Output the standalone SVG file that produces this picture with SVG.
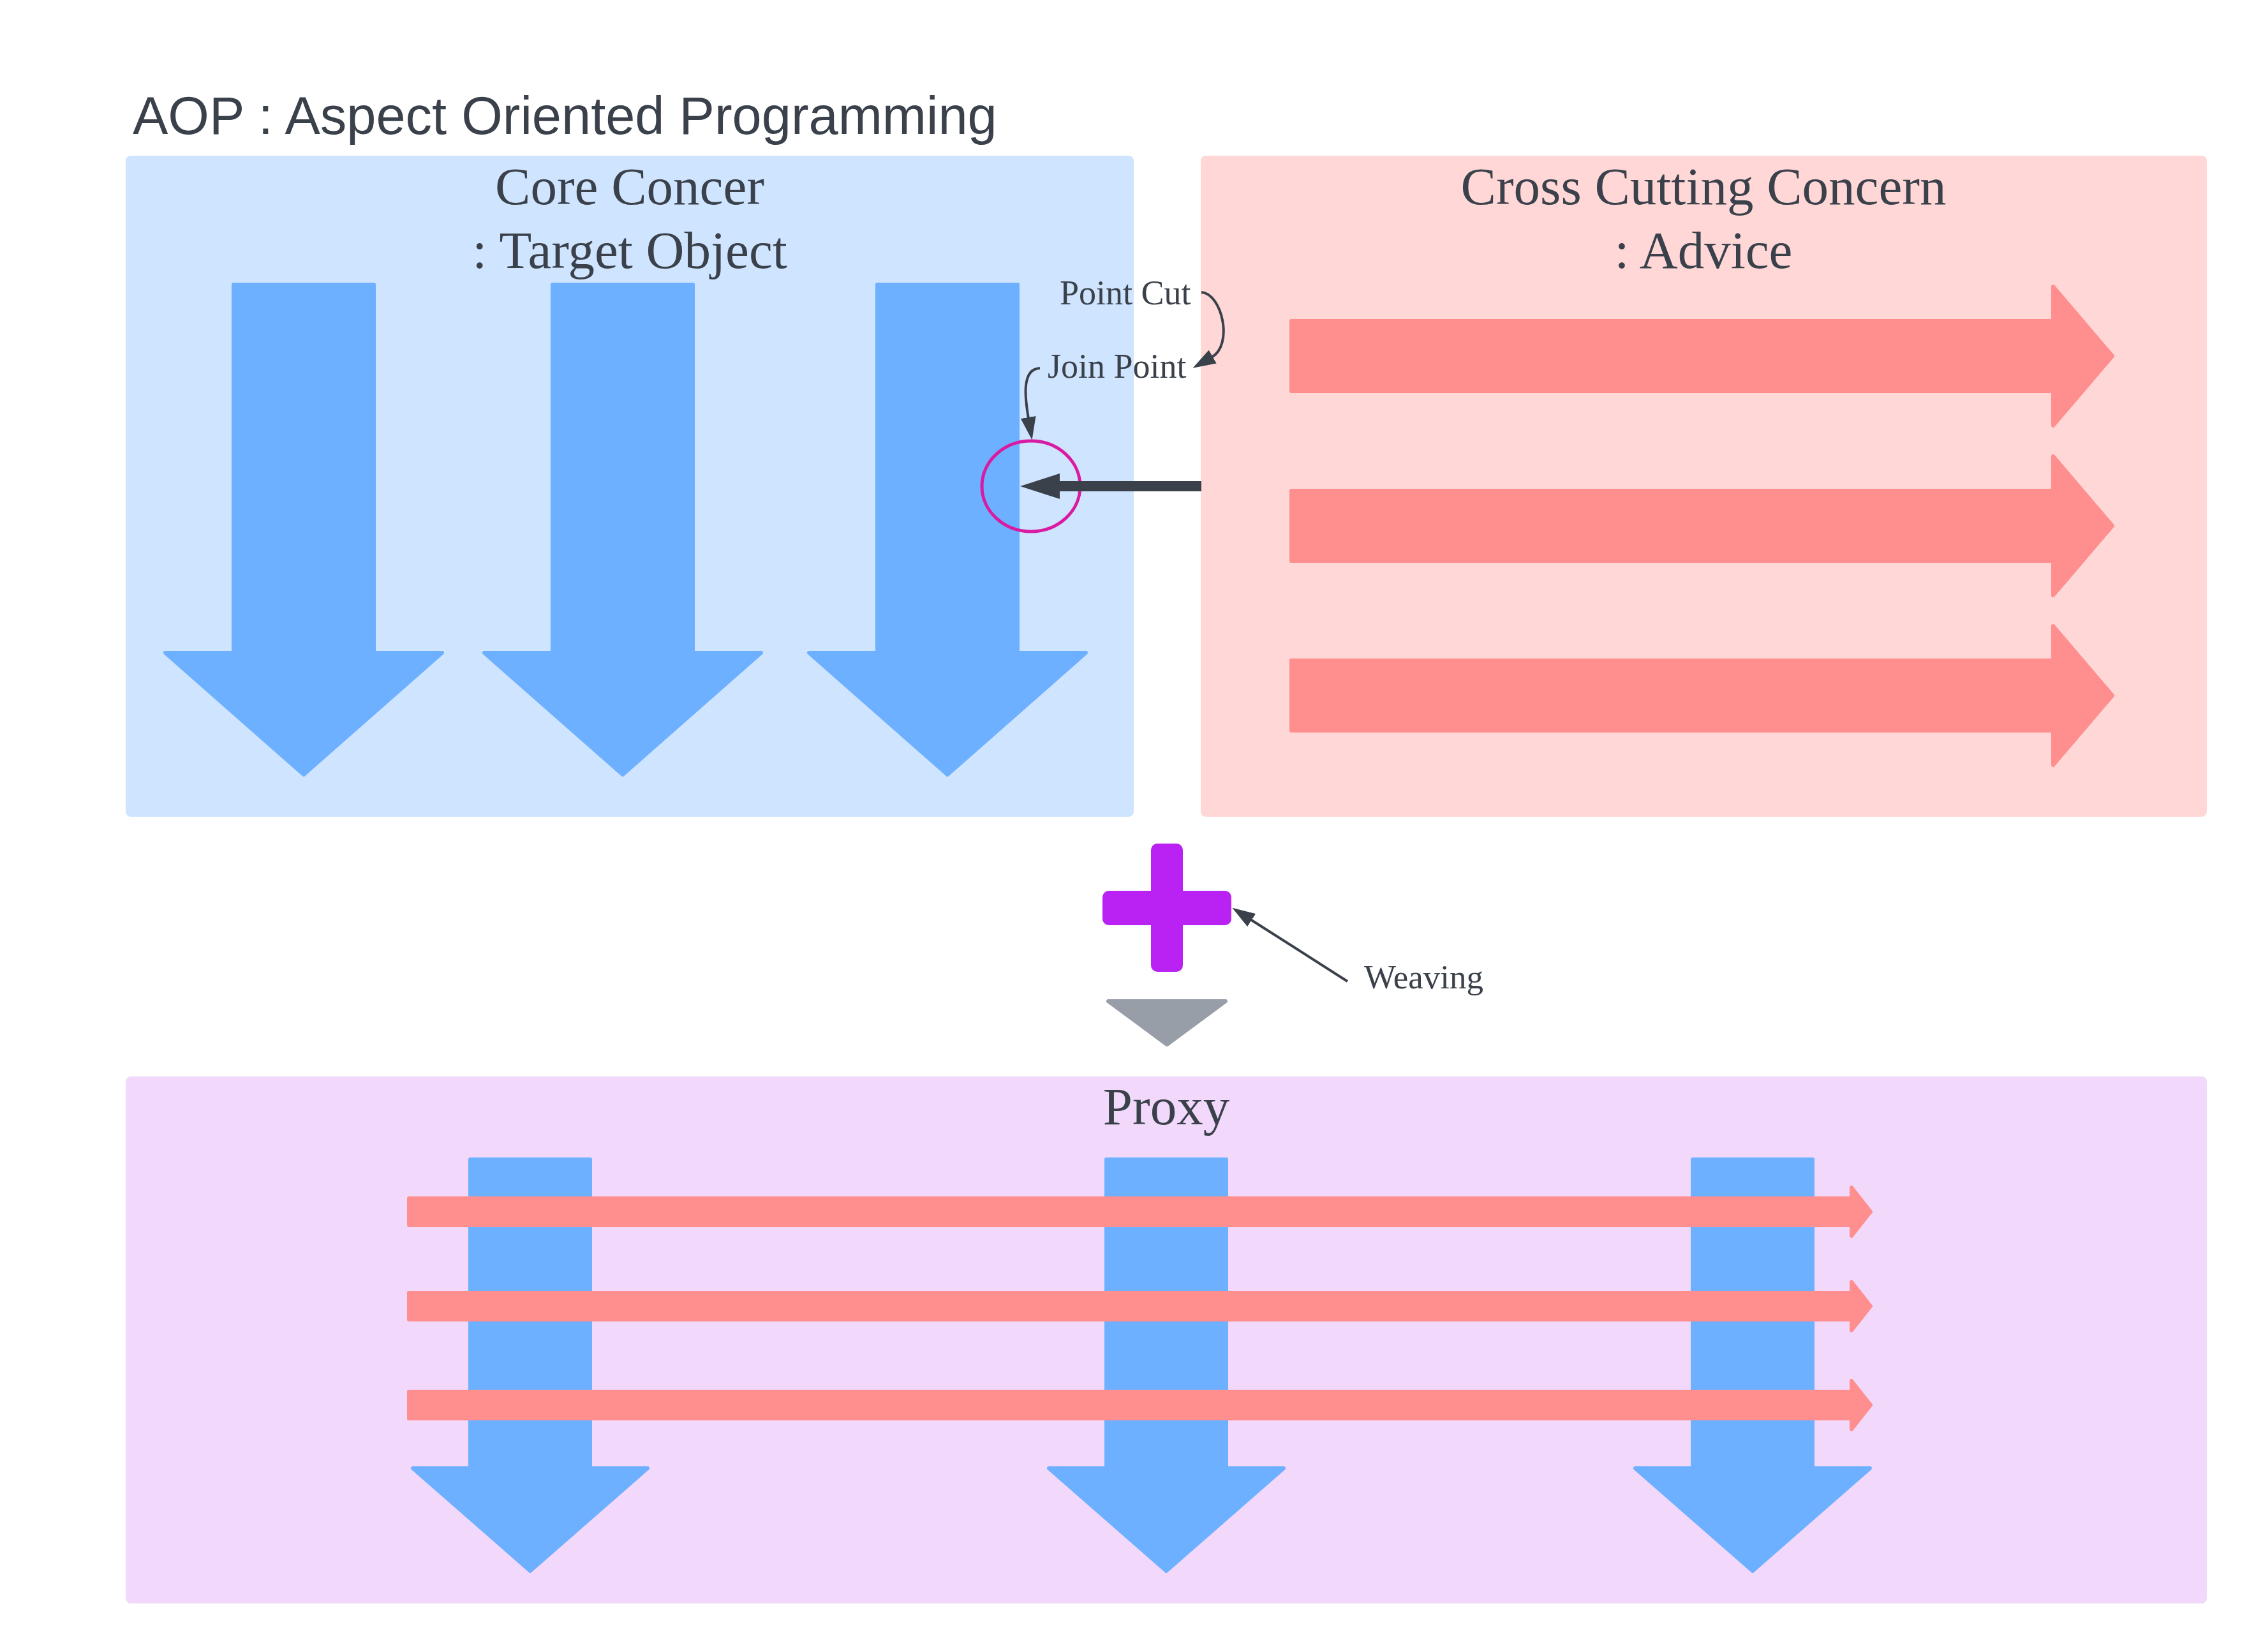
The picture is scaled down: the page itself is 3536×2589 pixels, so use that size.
<svg xmlns="http://www.w3.org/2000/svg" width="3536" height="2589" viewBox="0 0 3536 2589">
<style>
.serif{font-family:"Liberation Serif","Times New Roman",serif;fill:#3a414a}
.sans{font-family:"Liberation Sans",Arial,sans-serif;fill:#3a414a}
.big{font-size:83px}
.lbl{font-size:54px}
.ba{fill:#6cb0ff;stroke:#6cb0ff;stroke-width:6;stroke-linejoin:round}
.ra{fill:#ff8e8e;stroke:#ff8e8e;stroke-width:6;stroke-linejoin:round}
.thin{fill:none;stroke:#3a414a;stroke-width:4}
</style>
<defs>
<marker id="ah" viewBox="0 0 36 24" refX="2" refY="12" markerWidth="36" markerHeight="24" markerUnits="userSpaceOnUse" orient="auto">
<path d="M0,0 L36,12 L0,24 z" fill="#3a414a"/>
</marker>
<marker id="ahBig" viewBox="0 0 62 40" refX="11" refY="20" markerWidth="62" markerHeight="40" markerUnits="userSpaceOnUse" orient="auto">
<path d="M0,0 L62,20 L0,40 z" fill="#3a414a"/>
</marker>
</defs>
<rect width="3536" height="2589" fill="#ffffff"/>

<g id="title">
<text class="sans" x="208" y="210" font-size="83">AOP : Aspect Oriented Programming</text>
</g>

<g id="core">
<rect x="197" y="244" width="1580" height="1036" rx="8" fill="#cfe4ff"/>
<text class="serif big" x="987" y="320" text-anchor="middle">Core Concer</text>
<text class="serif big" x="987" y="420" text-anchor="middle">: Target Object</text>
<path class="ba" d="M366 446 H586 V1023 H693 L476 1214 L259 1023 H366 Z"/>
<path class="ba" d="M866 446 H1086 V1023 H1193 L976 1214 L759 1023 H866 Z"/>
<path class="ba" d="M1375 446 H1595 V1023 H1702 L1485 1214 L1268 1023 H1375 Z"/>
</g>

<g id="advice">
<rect x="1882" y="244" width="1577" height="1036" rx="8" fill="#ffd7d7"/>
<text class="serif big" x="2670" y="320" text-anchor="middle">Cross Cutting Concern</text>
<text class="serif big" x="2670" y="420" text-anchor="middle">: Advice</text>
<path class="ra" d="M2024 503 H3218 V449 L3311 558 L3218 667 V613 H2024 Z"/>
<path class="ra" d="M2024 769 H3218 V715 L3311 824 L3218 933 V879 H2024 Z"/>
<path class="ra" d="M2024 1035 H3218 V981 L3311 1090 L3218 1199 V1145 H2024 Z"/>
</g>

<g id="joinpoint">
<ellipse cx="1616" cy="762" rx="77" ry="71" fill="none" stroke="#d81ba2" stroke-width="5"/>
</g>

<g id="label-pointcut">
<text class="serif lbl" x="1661" y="477">Point Cut</text>
</g>
<g id="label-joinpoint">
<text class="serif lbl" x="1642" y="592">Join Point</text>
</g>

<g id="plus">
<rect x="1804" y="1322" width="50" height="201" rx="10" fill="#b922f2"/>
<rect x="1728" y="1396" width="202" height="54" rx="10" fill="#b922f2"/>
</g>

<g id="label-weaving">
<text class="serif" x="2138" y="1549" font-size="53">Weaving</text>
</g>

<g id="down-triangle">
<path d="M1737 1569 H1921 L1829 1637 Z" fill="#979ea8" stroke="#979ea8" stroke-width="6" stroke-linejoin="round"/>
</g>

<g id="proxy">
<rect x="197" y="1687" width="3262" height="826" rx="8" fill="#f2d9fc"/>
<text class="serif big" x="1828" y="1762" text-anchor="middle">Proxy</text>
<path class="ba" d="M737 1817 H925 V2301 H1015 L831 2462 L647 2301 H737 Z"/>
<path class="ba" d="M1734 1817 H1922 V2301 H2012 L1828 2462 L1644 2301 H1734 Z"/>
<path class="ba" d="M2653 1817 H2841 V2301 H2931 L2747 2462 L2563 2301 H2653 Z"/>
<path class="ra" d="M641 1878 H2902 V1861 L2932 1899 L2902 1937 V1920 H641 Z"/>
<path class="ra" d="M641 2026 H2902 V2009 L2932 2047 L2902 2085 V2068 H641 Z"/>
<path class="ra" d="M641 2181 H2902 V2164 L2932 2202 L2902 2240 V2223 H641 Z"/>
</g>

<g id="connectors">
<line x1="1883" y1="762" x2="1650" y2="762" stroke="#3a414a" stroke-width="16" marker-end="url(#ahBig)"/>
<path class="thin" d="M1883 458 C1915 460 1934 540 1899 560" marker-end="url(#ah)"/>
<path class="thin" d="M1630 577 C1600 578 1607 626 1612 656" marker-end="url(#ah)"/>
<line class="thin" x1="2112" y1="1538" x2="1960" y2="1441" marker-end="url(#ah)"/>
</g>
</svg>
